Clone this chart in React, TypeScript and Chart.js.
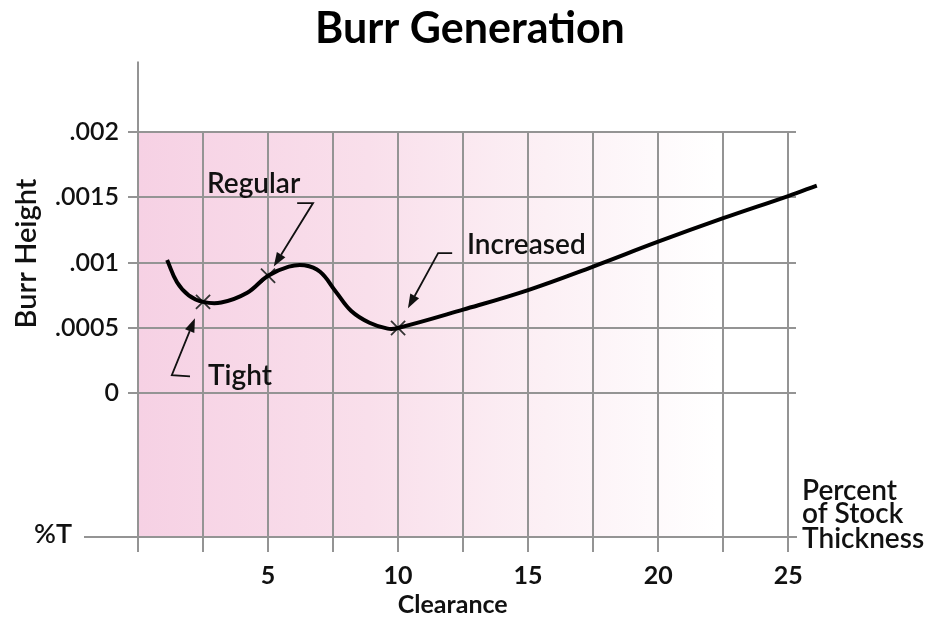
import { useEffect, useRef } from 'react';
import { Chart, registerables } from 'chart.js';

Chart.register(...registerables);

// ---------- data ----------
const chartTitle = 'Burr Generation';
const xAxisTitle = 'Clearance';
const yAxisTitle = 'Burr Height';
const xUnitLines = ['Percent', 'of Stock', 'Thickness'];
const bottomTickLabel = '%T';

const curveX = [1.12, 1.5, 1.95, 2.5, 3.2, 4.2, 5.0, 5.8, 6.4, 7.0, 7.6, 8.2, 8.9, 9.6, 10, 12.5, 15, 17.5, 20, 22.5, 25, 26.1];
const curveY = [0.00102, 0.00085, 0.00075, 0.0007, 0.000695, 0.00077, 0.0009, 0.00097, 0.00098, 0.00093, 0.00078, 0.00063, 0.00054, 0.000495, 0.0005, 0.00064, 0.00079, 0.00097, 0.00116, 0.00134, 0.00151, 0.00159];

const markerX = [2.5, 5, 10];
const markerY = [0.0007, 0.0009, 0.0005];

const xTickValues = [0, 2.5, 5, 7.5, 10, 12.5, 15, 17.5, 20, 22.5, 25];
const xTickLabels = ['', '', '5', '', '10', '', '15', '', '20', '', '25'];
const yTickValues = [0, 0.0005, 0.001, 0.0015, 0.002];
const yTickLabels = ['0', '.0005', '.001', '.0015', '.002'];

const xMin = 0;
const xMax = 25.3;
const yMin = -0.0011;
const yMax = 0.002;
const yAxisTop = 0.00254;

// annotations: label text, label anchor (data coords, left/baseline), arrow: tail, bend, tip
const annotationLabels = ['Tight', 'Regular', 'Increased'];
const annotationLabelX = [2.69, 2.65, 12.65];
const annotationLabelY = [0.00006, 0.00153, 0.00107];
const arrowTailX = [2.0, 6.12, 12.08];
const arrowTailY = [0.00013, 0.001456, 0.001073];
const arrowBendX = [1.3, 6.73, 11.54];
const arrowBendY = [0.000138, 0.001456, 0.001073];
const arrowTipX = [2.19, 5.22, 10.38];
const arrowTipY = [0.000575, 0.00097, 0.000651];

const FONT = 'Lato, "Open Sans", sans-serif';
const GRID = '#949494';

function drawArrow(ctx: CanvasRenderingContext2D, pts: number[][]) {
  const n = pts.length;
  const [tx, ty] = pts[n - 1];
  const [px, py] = pts[n - 2];
  const ang = Math.atan2(ty - py, tx - px);
  const headLen = 14;
  const headW = 5;
  const bx = tx - Math.cos(ang) * headLen;
  const by = ty - Math.sin(ang) * headLen;
  ctx.beginPath();
  ctx.moveTo(pts[0][0], pts[0][1]);
  for (let i = 1; i < n - 1; i++) ctx.lineTo(pts[i][0], pts[i][1]);
  ctx.lineTo(bx, by);
  ctx.stroke();
  ctx.beginPath();
  ctx.moveTo(tx, ty);
  ctx.lineTo(bx + Math.sin(ang) * headW, by - Math.cos(ang) * headW);
  ctx.lineTo(bx - Math.sin(ang) * headW, by + Math.cos(ang) * headW);
  ctx.closePath();
  ctx.fill();
}

const decorPlugin = {
  id: 'decor',
  beforeDraw(chart: any) {
    const { ctx, chartArea } = chart;
    const { left, right, top, bottom } = chartArea;
    ctx.save();
    ctx.fillStyle = '#ffffff';
    ctx.fillRect(0, 0, chart.width, chart.height);
    const g = ctx.createLinearGradient(left, 0, right, 0);
    g.addColorStop(0, '#f6d1e4');
    g.addColorStop(0.35, '#f9dfeb');
    g.addColorStop(0.62, '#fcf0f5');
    g.addColorStop(0.88, '#ffffff');
    ctx.fillStyle = g;
    ctx.fillRect(left, top, right - left, bottom - top);
    ctx.restore();
  },
  afterDatasetsDraw(chart: any) {
    const { ctx, chartArea, scales } = chart;
    const xs = scales.x;
    const ys = scales.y;
    ctx.save();
    // axis extensions
    ctx.strokeStyle = GRID;
    ctx.lineWidth = 2;
    ctx.beginPath();
    ctx.moveTo(chartArea.left, chartArea.top);
    ctx.lineTo(chartArea.left, ys.getPixelForValue(yAxisTop));
    ctx.stroke();
    ctx.beginPath();
    ctx.moveTo(84, chartArea.bottom);
    ctx.lineTo(chartArea.left, chartArea.bottom);
    ctx.stroke();

    // annotations
    ctx.fillStyle = '#111';
    ctx.strokeStyle = '#111';
    ctx.lineWidth = 1.8;
    ctx.font = `600 28px ${FONT}`;
    ctx.textAlign = 'left';
    ctx.textBaseline = 'alphabetic';
    for (let i = 0; i < annotationLabels.length; i++) {
      ctx.fillText(annotationLabels[i], xs.getPixelForValue(annotationLabelX[i]), ys.getPixelForValue(annotationLabelY[i]));
      drawArrow(ctx, [
        [xs.getPixelForValue(arrowTailX[i]), ys.getPixelForValue(arrowTailY[i])],
        [xs.getPixelForValue(arrowBendX[i]), ys.getPixelForValue(arrowBendY[i])],
        [xs.getPixelForValue(arrowTipX[i]), ys.getPixelForValue(arrowTipY[i])],
      ]);
    }

    // title
    ctx.fillStyle = '#000';
    ctx.font = `bold 43px ${FONT}`;
    ctx.textAlign = 'center';
    ctx.fillText(chartTitle, 470, 43);

    // x axis title
    ctx.fillStyle = '#111';
    ctx.font = `bold 25px ${FONT}`;
    ctx.fillText(xAxisTitle, xs.getPixelForValue(12.1), chartArea.bottom + 76);

    // %T
    ctx.font = `600 27px ${FONT}`;
    ctx.textAlign = 'right';
    ctx.fillText(bottomTickLabel, 72, chartArea.bottom + 6);

    // unit note
    ctx.font = `600 28px ${FONT}`;
    ctx.textAlign = 'left';
    const ux = chartArea.right + 6;
    ctx.fillText(xUnitLines[0], ux, chartArea.bottom - 37);
    ctx.fillText(xUnitLines[1], ux, chartArea.bottom - 14);
    ctx.fillText(xUnitLines[2], ux, chartArea.bottom + 11);

    // y axis title
    ctx.font = `600 29px ${FONT}`;
    ctx.textAlign = 'center';
    ctx.translate(36, ys.getPixelForValue(0.00107));
    ctx.rotate(-Math.PI / 2);
    ctx.fillText(yAxisTitle, 0, 0);
    ctx.restore();
  },
};

export default function App() {
  const ref = useRef<HTMLCanvasElement | null>(null);
  useEffect(() => {
    if (!ref.current) return;
    const chart = new Chart(ref.current, {
      type: 'line',
      data: {
        datasets: [
          {
            label: 'Burr',
            data: curveX.map((x, i) => ({ x, y: curveY[i] })),
            borderColor: '#000',
            borderWidth: 4,
            pointRadius: 0,
            tension: 0.4,
            fill: false,
            clip: false as any,
          },
          {
            label: 'Marks',
            data: markerX.map((x, i) => ({ x, y: markerY[i] })),
            showLine: false,
            pointStyle: 'crossRot',
            pointRadius: 10,
            pointBorderWidth: 1.8,
            pointBorderColor: '#333',
            borderColor: '#333',
            clip: false as any,
          },
        ],
      },
      options: {
        animation: false,
        responsive: true,
        maintainAspectRatio: false,
        layout: { padding: { top: 132, left: 0, right: 136, bottom: 0 } },
        plugins: {
          legend: { display: false },
          tooltip: { enabled: false },
          title: { display: false },
        },
        scales: {
          x: {
            type: 'linear',
            min: xMin,
            max: xMax,
            afterBuildTicks: (s: any) => {
              s.ticks = xTickValues.map((v) => ({ value: v }));
            },
            afterFit: (s: any) => {
              s.height = 82;
            },
            grid: { color: GRID, lineWidth: 2, tickLength: 15, tickColor: GRID, tickWidth: 2 },
            border: { display: true, color: GRID, width: 2 },
            ticks: {
              autoSkip: false,
              maxRotation: 0,
              padding: 9,
              color: '#111',
              font: { family: FONT, size: 25, weight: '700' },
              callback: (_v: any, i: number) => xTickLabels[i],
            },
          },
          y: {
            type: 'linear',
            min: yMin,
            max: yMax,
            afterBuildTicks: (s: any) => {
              s.ticks = [yMin, ...yTickValues].map((v) => ({ value: v }));
            },
            afterFit: (s: any) => {
              s.width = 138;
            },
            grid: { color: GRID, lineWidth: 2, tickLength: 10, tickColor: GRID, tickWidth: 2 },
            border: { display: true, color: GRID, width: 2 },
            ticks: {
              autoSkip: false,
              padding: 9,
              color: '#111',
              font: { family: FONT, size: 25, weight: '600' },
              callback: (_v: any, i: number) => (i === 0 ? '' : yTickLabels[i - 1]),
            },
          },
        },
      },
      plugins: [decorPlugin],
    } as any);
    return () => chart.destroy();
  }, []);

  return (
    <div style={{ position: 'fixed', left: 0, top: 0, width: 932, height: 619, background: '#fff' }}>
      <canvas ref={ref} />
    </div>
  );
}
